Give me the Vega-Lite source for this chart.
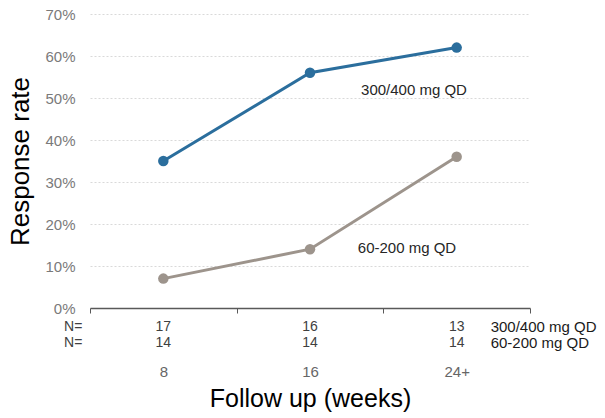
{
  "$schema": "https://vega.github.io/schema/vega-lite/v6.json",
  "autosize": {"type": "none"},
  "padding": {"left": 90, "top": 14, "right": 75, "bottom": 110},
  "width": 440,
  "height": 294,
  "background": "white",
  "config": {
    "font": "Liberation Sans",
    "view": {"stroke": null},
    "axisY": {
      "titleFontSize": 26,
      "titleFontWeight": "normal",
      "titleColor": "#000000",
      "titlePadding": 11,
      "labelFontSize": 15,
      "labelColor": "#7a7a7a",
      "labelPadding": 15,
      "domain": false,
      "ticks": false,
      "gridColor": "#d9d9d9",
      "gridDash": [2, 2],
      "gridWidth": 1
    }
  },
  "data": {
    "values": [
      {"week": "8", "dose": "300/400 mg QD", "rate": 0.35, "n": 17},
      {"week": "16", "dose": "300/400 mg QD", "rate": 0.56, "n": 16},
      {"week": "24+", "dose": "300/400 mg QD", "rate": 0.62, "n": 13},
      {"week": "8", "dose": "60-200 mg QD", "rate": 0.07, "n": 14},
      {"week": "16", "dose": "60-200 mg QD", "rate": 0.14, "n": 14},
      {"week": "24+", "dose": "60-200 mg QD", "rate": 0.36, "n": 14}
    ]
  },
  "encoding": {
    "x": {
      "field": "week",
      "type": "ordinal",
      "sort": ["8", "16", "24+"],
      "scale": {"type": "band", "paddingInner": 0, "paddingOuter": 0},
      "axis": {
        "title": "Follow up (weeks)",
        "titleFontSize": 25,
        "titleFontWeight": "normal",
        "titleColor": "#000000",
        "titlePadding": 7,
        "labelAngle": 0,
        "labelFontSize": 15,
        "labelColor": "#666666",
        "labelPadding": 51,
        "tickBand": "extent",
        "tickSize": 5,
        "tickColor": "#595959",
        "domainColor": "#595959",
        "domainWidth": 1.5,
        "grid": false
      }
    }
  },
  "layer": [
    {
      "mark": {"type": "line", "strokeWidth": 3},
      "encoding": {
        "y": {
          "field": "rate",
          "type": "quantitative",
          "scale": {"domain": [0, 0.7]},
          "axis": {"title": "Response rate", "format": ".0%", "values": [0, 0.1, 0.2, 0.3, 0.4, 0.5, 0.6, 0.7]}
        },
        "color": {
          "field": "dose",
          "type": "nominal",
          "scale": {"domain": ["300/400 mg QD", "60-200 mg QD"], "range": ["#2b6e9d", "#9d948c"]},
          "legend": null
        }
      }
    },
    {
      "mark": {"type": "point", "filled": true, "opacity": 1, "size": 110},
      "encoding": {
        "y": {"field": "rate", "type": "quantitative", "axis": {"title": "Response rate", "format": ".0%", "values": [0, 0.1, 0.2, 0.3, 0.4, 0.5, 0.6, 0.7]}},
        "color": {"field": "dose", "type": "nominal"}
      }
    },
    {
      "transform": [{"filter": "datum.dose == '300/400 mg QD'"}],
      "mark": {"type": "text", "fontSize": 14, "color": "#404040", "dy": 19, "baseline": "middle"},
      "encoding": {
        "y": {"datum": 0, "type": "quantitative", "axis": {"title": "Response rate", "format": ".0%", "values": [0, 0.1, 0.2, 0.3, 0.4, 0.5, 0.6, 0.7]}},
        "text": {"field": "n", "type": "nominal"}
      }
    },
    {
      "transform": [{"filter": "datum.dose == '60-200 mg QD'"}],
      "mark": {"type": "text", "fontSize": 14, "color": "#404040", "dy": 35, "baseline": "middle"},
      "encoding": {
        "y": {"datum": 0, "type": "quantitative", "axis": {"title": "Response rate", "format": ".0%", "values": [0, 0.1, 0.2, 0.3, 0.4, 0.5, 0.6, 0.7]}},
        "text": {"field": "n", "type": "nominal"}
      }
    },
    {
      "transform": [{"filter": "datum.week == '8' && datum.dose == '300/400 mg QD'"}],
      "mark": {"type": "text", "fontSize": 14, "color": "#404040", "align": "right", "dx": -81, "dy": 19, "baseline": "middle"},
      "encoding": {
        "y": {"datum": 0, "type": "quantitative", "axis": {"title": "Response rate", "format": ".0%", "values": [0, 0.1, 0.2, 0.3, 0.4, 0.5, 0.6, 0.7]}},
        "text": {"value": "N="}
      }
    },
    {
      "transform": [{"filter": "datum.week == '8' && datum.dose == '60-200 mg QD'"}],
      "mark": {"type": "text", "fontSize": 14, "color": "#404040", "align": "right", "dx": -81, "dy": 35, "baseline": "middle"},
      "encoding": {
        "y": {"datum": 0, "type": "quantitative", "axis": {"title": "Response rate", "format": ".0%", "values": [0, 0.1, 0.2, 0.3, 0.4, 0.5, 0.6, 0.7]}},
        "text": {"value": "N="}
      }
    },
    {
      "transform": [{"filter": "datum.week == '24+' && datum.dose == '300/400 mg QD'"}],
      "mark": {"type": "text", "fontSize": 15, "color": "#1a1a1a", "align": "left", "dx": 34, "dy": 19, "baseline": "middle"},
      "encoding": {
        "y": {"datum": 0, "type": "quantitative", "axis": {"title": "Response rate", "format": ".0%", "values": [0, 0.1, 0.2, 0.3, 0.4, 0.5, 0.6, 0.7]}},
        "text": {"field": "dose", "type": "nominal"}
      }
    },
    {
      "transform": [{"filter": "datum.week == '24+' && datum.dose == '60-200 mg QD'"}],
      "mark": {"type": "text", "fontSize": 15, "color": "#1a1a1a", "align": "left", "dx": 34, "dy": 35, "baseline": "middle"},
      "encoding": {
        "y": {"datum": 0, "type": "quantitative", "axis": {"title": "Response rate", "format": ".0%", "values": [0, 0.1, 0.2, 0.3, 0.4, 0.5, 0.6, 0.7]}},
        "text": {"field": "dose", "type": "nominal"}
      }
    },
    {
      "transform": [{"filter": "datum.week == '16' && datum.dose == '300/400 mg QD'"}],
      "mark": {"type": "text", "fontSize": 15, "color": "#262626", "align": "center", "dx": 104, "dy": 17, "baseline": "middle"},
      "encoding": {
        "y": {"field": "rate", "type": "quantitative", "axis": {"title": "Response rate", "format": ".0%", "values": [0, 0.1, 0.2, 0.3, 0.4, 0.5, 0.6, 0.7]}},
        "text": {"field": "dose", "type": "nominal"}
      }
    },
    {
      "transform": [{"filter": "datum.week == '16' && datum.dose == '60-200 mg QD'"}],
      "mark": {"type": "text", "fontSize": 15, "color": "#262626", "align": "center", "dx": 97, "dy": -1, "baseline": "middle"},
      "encoding": {
        "y": {"field": "rate", "type": "quantitative", "axis": {"title": "Response rate", "format": ".0%", "values": [0, 0.1, 0.2, 0.3, 0.4, 0.5, 0.6, 0.7]}},
        "text": {"field": "dose", "type": "nominal"}
      }
    }
  ]
}
